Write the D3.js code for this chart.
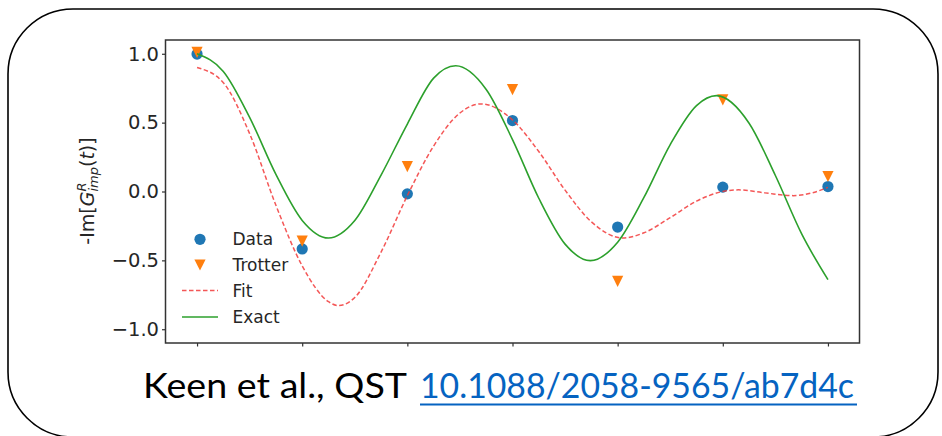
<!DOCTYPE html>
<html>
<head>
<meta charset="utf-8">
<script src="https://cdn.jsdelivr.net/npm/d3@7"></script>
<style>
  html, body { margin: 0; padding: 0; background: #ffffff; }
  svg { display: block; }
</style>
</head>
<body>
<svg id="chart" width="942" height="436"></svg>
<script>
// ---- data ----
const pointX = [0, 1, 2, 3, 4, 5, 6];
const dataY = [0.998, -0.417, -0.017, 0.515, -0.258, 0.032, 0.036];
const trotterY = [1.01, -0.36, 0.18, 0.74, -0.652, 0.665, 0.109];

const fitX = [0, 0.25, 0.5, 0.75, 1.0, 1.25, 1.344, 1.5, 1.75, 2.0, 2.25, 2.5, 2.7, 3.0, 3.25, 3.5, 3.75, 4.05, 4.25, 4.5, 4.75, 5.0, 5.15, 5.4, 5.67, 5.85, 6.0];
const fitY = [0.90, 0.79, 0.42, -0.10, -0.54, -0.80, -0.828, -0.77, -0.44, -0.03, 0.33, 0.57, 0.636, 0.52, 0.29, 0.01, -0.22, -0.338, -0.30, -0.19, -0.07, 0.0, 0.012, -0.01, -0.03, -0.01, 0.03];

const exactX = [0, 0.25, 0.5, 0.75, 1.0, 1.25, 1.5, 1.75, 2.0, 2.25, 2.46, 2.75, 3.0, 3.25, 3.5, 3.74, 4.0, 4.25, 4.5, 4.75, 4.94, 5.25, 5.5, 5.75, 6.0];
const exactY = [1.0, 0.872, 0.538, 0.124, -0.21, -0.338, -0.211, 0.119, 0.49, 0.823, 0.913, 0.741, 0.377, -0.049, -0.382, -0.502, -0.368, -0.043, 0.341, 0.624, 0.696, 0.496, 0.116, -0.308, -0.64];

const yTicks = [-1.0, -0.5, 0.0, 0.5, 1.0];
const xTicks = [0, 1, 2, 3, 4, 5, 6];
const legendLabels = ["Data", "Trotter", "Fit", "Exact"];
const citeText = "Keen et al., QST";
const doiText = "10.1088/2058-9565/ab7d4c";

// ---- layout ----
const svg = d3.select("#chart");
const plot = { left: 165.5, right: 859.5, top: 40, bottom: 343 };
const x = d3.scaleLinear().domain([-0.3, 6.3]).range([plot.left, plot.right]);
const y = d3.scaleLinear().domain([-1.1, 1.1]).range([plot.bottom, plot.top]);

const C = { data: "#1f77b4", trotter: "#ff7f0e", fit: "#f23a3a", exact: "#2ca02c" };

// rounded frame
svg.append("rect")
  .attr("x", 8).attr("y", 9).attr("width", 930).attr("height", 428)
  .attr("rx", 65).attr("ry", 65)
  .attr("fill", "none").attr("stroke", "#000").attr("stroke-width", 1.6);

// axes
const yAxis = d3.axisLeft(y).tickValues(yTicks).tickFormat(d3.format(".1f")).tickSize(3.5).tickPadding(3);
const xAxis = d3.axisBottom(x).tickValues(xTicks).tickFormat("").tickSize(3.5);

const gy = svg.append("g").attr("transform", `translate(${plot.left},0)`).call(yAxis);
const gx = svg.append("g").attr("transform", `translate(0,${plot.bottom})`).call(xAxis);
gy.select(".domain").remove();
gx.select(".domain").remove();
[gy, gx].forEach(g => {
  g.selectAll(".tick line").attr("stroke", "#333").attr("stroke-width", 1.2);
});
gy.selectAll(".tick text")
  .attr("font-family", "DejaVu Sans").attr("font-size", 19.5).attr("fill", "#262626");

// series
const lineGen = d3.line().x(d => x(d[0])).y(d => y(d[1])).curve(d3.curveMonotoneX);

const gData = svg.append("g");
gData.selectAll("circle").data(pointX.map((v, i) => [v, dataY[i]])).join("circle")
  .attr("cx", d => x(d[0])).attr("cy", d => y(d[1])).attr("r", 5.6).attr("fill", C.data);

const tri = (cx, cy, r) => `M${cx - r},${cy - r}L${cx + r},${cy - r}L${cx},${cy + r}Z`;
const gTrot = svg.append("g");
gTrot.selectAll("path").data(pointX.map((v, i) => [v, trotterY[i]])).join("path")
  .attr("d", d => tri(x(d[0]), y(d[1]), 5.6)).attr("fill", C.trotter);

svg.append("path").datum(fitX.map((v, i) => [v, fitY[i]]))
  .attr("d", lineGen).attr("fill", "none").attr("stroke", C.fit)
  .attr("stroke-width", 1.5).attr("stroke-dasharray", "4.5,2.5").attr("opacity", 0.85);

svg.append("path").datum(exactX.map((v, i) => [v, exactY[i]]))
  .attr("d", lineGen).attr("fill", "none").attr("stroke", C.exact)
  .attr("stroke-width", 1.6);

// plot frame
svg.append("rect")
  .attr("x", plot.left).attr("y", plot.top)
  .attr("width", plot.right - plot.left).attr("height", plot.bottom - plot.top)
  .attr("fill", "none").attr("stroke", "#333").attr("stroke-width", 1.5);

// legend
const legY = [239.3, 265, 290.5, 317];
const lg = svg.append("g");
lg.append("circle").attr("cx", 200).attr("cy", legY[0]).attr("r", 5.6).attr("fill", C.data);
lg.append("path").attr("d", tri(200, legY[1], 5.6)).attr("fill", C.trotter);
lg.append("line").attr("x1", 182).attr("x2", 218).attr("y1", legY[2]).attr("y2", legY[2])
  .attr("stroke", C.fit).attr("stroke-width", 1.5).attr("stroke-dasharray", "4.5,2.5").attr("opacity", 0.85);
lg.append("line").attr("x1", 182).attr("x2", 218).attr("y1", legY[3]).attr("y2", legY[3])
  .attr("stroke", C.exact).attr("stroke-width", 1.6);
lg.selectAll("text").data(legendLabels).join("text")
  .attr("x", 232.5).attr("y", (d, i) => legY[i] + 6)
  .attr("font-family", "DejaVu Sans").attr("font-size", 17).attr("fill", "#262626")
  .text(d => d);

// y label (mathtext-like)
const yl = svg.append("text")
  .attr("transform", "translate(94,191) rotate(-90)")
  .attr("text-anchor", "middle")
  .attr("font-family", "DejaVu Sans").attr("font-size", 19).attr("fill", "#262626");
yl.append("tspan").text("-Im[");
yl.append("tspan").attr("font-style", "italic").text("G");
yl.append("tspan").attr("font-style", "italic").attr("font-size", 13).attr("dy", -8).text("R");
yl.append("tspan").attr("font-style", "italic").attr("font-size", 13).attr("dx", -9).attr("dy", 12).text("imp");
yl.append("tspan").attr("dy", -4).text("(");
yl.append("tspan").attr("font-style", "italic").text("t");
yl.append("tspan").text(")]");

// citation
svg.append("text").attr("x", 143).attr("y", 398)
  .attr("font-family", "Lato").attr("font-size", 35).attr("fill", "#000")
  .attr("textLength", 264).attr("lengthAdjust", "spacingAndGlyphs")
  .text(citeText);
svg.append("text").attr("x", 420).attr("y", 398)
  .attr("font-family", "Lato").attr("font-size", 34).attr("fill", "#0563C1")
  .attr("textLength", 434).attr("lengthAdjust", "spacingAndGlyphs")
  .text(doiText);
svg.append("line").attr("x1", 420).attr("x2", 857).attr("y1", 404.5).attr("y2", 404.5)
  .attr("stroke", "#0563C1").attr("stroke-width", 2);
</script>
</body>
</html>
